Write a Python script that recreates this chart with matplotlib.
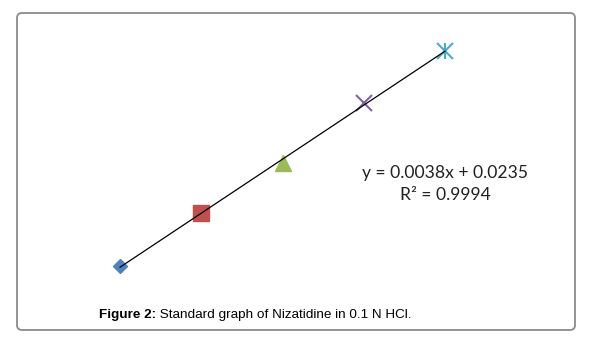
import numpy as np
import matplotlib
matplotlib.use("Agg")
import matplotlib.pyplot as plt
from matplotlib.patches import FancyBboxPatch

# Data
concentration = [50, 100, 150, 200, 250]
absorbance = [0.216, 0.403, 0.580, 0.792, 0.976]
marker_styles = ["D", "s", "^", "x", "*x"]
marker_colors = ["#4F81BD", "#C0504D", "#9BBB59", "#8064A2", "#4BACC6"]
equation_text = "y = 0.0038x + 0.0235"
r2_text = "R² = 0.9994"
caption_bold = "Figure 2:"
caption_rest = " Standard graph of Nizatidine in 0.1 N HCl."

W, H, DPI = 592, 346, 100
fig = plt.figure(figsize=(W / DPI, H / DPI), dpi=DPI)
fig.patch.set_facecolor("white")

# rounded frame
frame = FancyBboxPatch((0.17, 0.16), 5.58, 3.17,
                       boxstyle="round,pad=0,rounding_size=0.05",
                       transform=fig.dpi_scale_trans, fill=False,
                       edgecolor="#8a8a8a", linewidth=1.3)
fig.add_artist(frame)

ax = fig.add_axes([0, 0, 1, 1])
ax.set_xlim(-23.85, 340.46)
ax.set_ylim(-0.0668, 1.156)
ax.axis("off")

sizes = {"D": 7.5, "s": 11.5, "^": 11, "x": 11}
for x, y, m, c in zip(concentration, absorbance, marker_styles, marker_colors):
    if m == "*x":
        ax.plot([x], [y], marker="x", color=c, markersize=11, mew=1.5, zorder=3)
        ax.plot([x], [y], marker="|", color=c, markersize=12, mew=1.5, zorder=3)
    elif m == "x":
        ax.plot([x], [y], marker="x", color=c, markersize=sizes[m], mew=1.5, zorder=3)
    else:
        ax.plot([x], [y], marker=m, color=c, markersize=sizes[m], mec=c, zorder=3)

# linear trendline
slope, intercept = np.polyfit(concentration, absorbance, 1)
xs = np.array([min(concentration), max(concentration)])
ax.plot(xs, slope * xs + intercept, color="black", lw=0.9, zorder=4)

# equation
fig.text(445 / W, 1 - 173 / H, equation_text, ha="center", va="center",
         fontsize=12.6, family="Lato", color="#222222")
fig.text(445 / W, 1 - 195 / H, r2_text, ha="center", va="center",
         fontsize=12.6, family="Lato", color="#222222")

# caption
t1 = fig.text(99 / W, 1 - 315 / H, caption_bold, ha="left", va="center",
              fontsize=9.7, family="Liberation Sans", weight="bold", color="black")
fig.canvas.draw()
bb = t1.get_window_extent(fig.canvas.get_renderer())
fig.text(bb.x1 / W, 1 - 315 / H, caption_rest, ha="left", va="center",
         fontsize=9.7, family="Liberation Sans", color="black")

fig.savefig("out.png", dpi=DPI)
